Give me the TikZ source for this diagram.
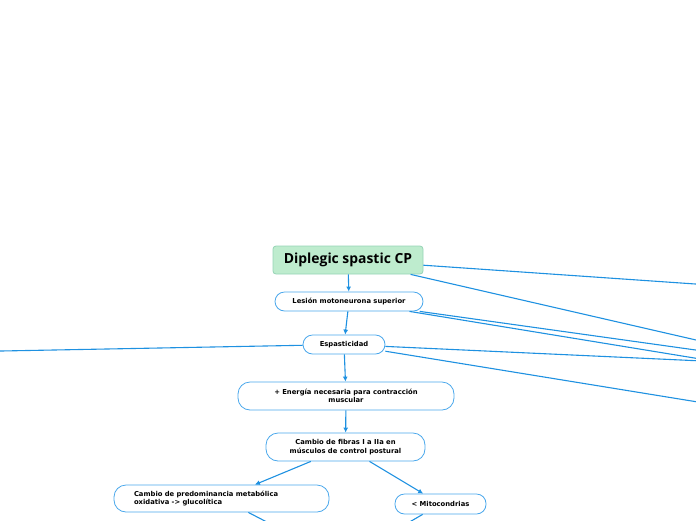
\documentclass[tikz,border=0pt]{standalone}
\usepackage{fontspec}
\setmainfont{DejaVu Sans}
\newfontfamily\titlefont{Open Sans}
\usepackage{xcolor}
\usetikzlibrary{positioning,arrows.meta}
\definecolor{linkblue}{RGB}{30,145,225}
\definecolor{boxblue}{RGB}{75,168,236}
\definecolor{rootgreen}{RGB}{190,236,206}
\definecolor{rootedge}{RGB}{150,212,182}

\begin{document}
\begin{tikzpicture}[x=1pt,y=-1pt,>={Latex[length=5pt,width=5pt]},
  topic/.style={draw=boxblue,fill=white,line width=0.8pt,rounded corners=9.5pt,
    inner sep=0pt,align=center,font=\fontsize{6.8}{8.3}\selectfont\bfseries},
  link/.style={draw=linkblue,line width=1.1pt}]
  \useasboundingbox (0,0) rectangle (696,520);
  \clip (0,0) rectangle (696,520);
  % central topic
  \node[draw=rootedge,fill=rootgreen,line width=0.8pt,rounded corners=3pt,
    minimum width=150pt,minimum height=28pt,font=\titlefont\fontsize{13.9}{16}\selectfont\bfseries]
    (root) at (348,260) {Diplegic spastic CP};
  % chain of subtopics
  \node[topic,minimum width=148pt,minimum height=19pt] (lesion) at (349,301.5) {Lesión motoneurona superior};
  \node[topic,minimum width=82pt,minimum height=19pt] (espast) at (344,344.5) {Espasticidad};
  \node[topic,minimum width=216pt,minimum height=28pt,rounded corners=12pt] (energia) at (346,396)
    {+ Energía necesaria para contracción\\muscular};
  \node[topic,minimum width=159pt,minimum height=28pt,rounded corners=12pt] (fibras) at (345.5,447)
    {Cambio de fibras I a IIa en\\músculos de control postural};
  \node[topic,minimum width=215pt,minimum height=27pt,rounded corners=12pt,
    text width=175pt,align=left,inner xsep=20pt] (metab) at (221.5,498.5)
    {Cambio de predominancia metabólica\\oxidativa -> glucolítica};
  \node[topic,minimum width=91pt,minimum height=20pt] (mitoc) at (440.5,504) {< Mitocondrias};
  % links that leave the picture
  \coordinate (rootA) at (720,285.7);
  \coordinate (rootB) at (720,345.5);
  \coordinate (lesA) at (720,353.4);
  \coordinate (lesB) at (720,362.2);
  \coordinate (espA) at (720,361.8);
  \coordinate (espB) at (720,405.6);
  \coordinate (espL) at (-20,351.4);
  \coordinate (metabD) at (301.6,540);
  \coordinate (mitocD) at (378.6,540);
  \draw[link] (root) -- (rootA);
  \draw[link] (root) -- (rootB);
  \draw[link] (lesion) -- (lesA);
  \draw[link] (lesion) -- (lesB);
  \draw[link] (espast) -- (espA);
  \draw[link] (espast) -- (espB);
  \draw[link] (espast) -- (espL);
  \draw[link] (metab) -- (metabD);
  \draw[link] (mitoc) -- (mitocD);
  % arrows
  \draw[link,->] (root) -- (lesion);
  \draw[link,->] (lesion) -- (espast);
  \draw[link,->] (espast) -- (energia);
  \draw[link,->] (energia) -- (fibras);
  \draw[link,->] (fibras) -- (metab);
  \draw[link,->] (fibras) -- (mitoc);
\end{tikzpicture}
\end{document}
